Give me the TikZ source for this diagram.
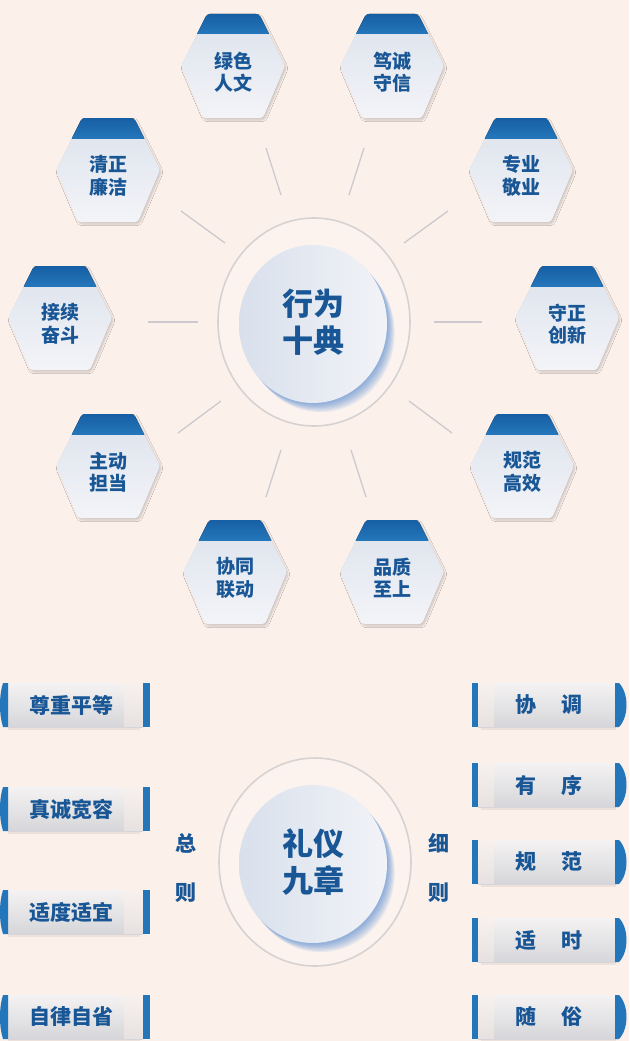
\documentclass[tikz,border=0pt]{standalone}
\usepackage{fontspec}
\newfontfamily\cjk{Noto Sans CJK SC}
\usetikzlibrary{calc,shadows.blur}
\definecolor{bg}{RGB}{252,240,234}
\definecolor{tblue}{RGB}{24,86,150}
\definecolor{capblue}{RGB}{36,118,186}
\definecolor{capdark}{RGB}{18,86,156}
\definecolor{hexlight}{RGB}{243,244,248}
\definecolor{hexdark}{RGB}{220,226,236}
\definecolor{ringc}{RGB}{214,210,210}
\definecolor{raygrey}{RGB}{204,202,206}
\definecolor{shblue}{RGB}{40,110,200}
\definecolor{disca}{RGB}{216,224,236}
\definecolor{discb}{RGB}{242,243,247}
\definecolor{barlight}{RGB}{244,242,242}
\definecolor{bardark}{RGB}{214,214,218}
\tikzset{
  hextext/.style={text=tblue, font=\cjk\bfseries\fontsize{19}{22.5}\selectfont, align=center, inner sep=0pt},
  bigtext/.style={text=tblue, font=\cjk\bfseries\fontsize{31}{37}\selectfont, align=center, inner sep=0pt},
  bantext/.style={text=tblue, font=\cjk\bfseries\fontsize{21}{24}\selectfont, inner sep=0pt},
  sidetext/.style={text=tblue, font=\cjk\bfseries\fontsize{21}{49}\selectfont, align=center, inner sep=0pt},
  ray/.style={draw=raygrey, line width=1.3pt},
  ring/.style={draw=ringc, line width=1.6pt, fill=white, fill opacity=0.25},
  bluebar/.style={fill=capblue},
  barbody/.style={top color=barlight, bottom color=bardark},
}
\newcommand\hexpath{(-26,-52) -- (26,-52) -- (52,0) -- (30,52) -- (-30,52) -- (-52,0) -- cycle}
\newcommand\hexnode[4]{%
  \begin{scope}[shift={(#2,#3)}]
    \path[rounded corners=3pt, top color=hexdark, bottom color=hexlight,
      blur shadow={shadow xshift=1.5pt, shadow yshift=-2pt, shadow opacity=18, shadow blur steps=6}] \hexpath;
    \begin{scope}
      \clip[rounded corners=3pt] \hexpath;
      \fill[top color=capdark, bottom color=capblue] (-60,-60) rectangle (60,-32);
    \end{scope}
    \node[hextext] (#1) at (0,6) {#4};
  \end{scope}}
\newcommand\centerdisc[6]{% name, ringx, ringy, discx, discy, text
  \draw[ring] (#2,#3) ellipse [x radius=96, y radius=104];
  \foreach \k in {1,...,7}{
    \fill[shblue, opacity=0.09] ($(#4,#5)+(1.1*\k,1.3*\k)$) ellipse [x radius=74, y radius=79];
  }
  \path[left color=disca, right color=discb] (#4,#5) ellipse [x radius=74, y radius=79];
  \node[bigtext] (#1) at (#4,#5-2) {#6};}
\newcommand\banL[3]{% name, y, text
  \fill[black, opacity=0.06] (8,#2-20) rectangle (140,#2+25);
  \path[barbody] (8,#2-22) rectangle (143,#2+22);
  \fill[bg, opacity=0.45] (124,#2-22) rectangle (143,#2+22);
  \fill[bluebar] (8,#2-22) -- (3,#2-22) .. controls (-1,#2-10) and (-1,#2+10) .. (3,#2+22) -- (8,#2+22) -- cycle;
  \fill[bluebar] (143,#2-22) rectangle (150,#2+22);
  \node[bantext] (#1) at (71,#2) {#3};}
\newcommand\banR[3]{% name, y, text
  \fill[black, opacity=0.06] (481,#2-20) rectangle (616,#2+25);
  \path[barbody] (478,#2-22) rectangle (616,#2+22);
  \fill[bg, opacity=0.45] (478,#2-22) rectangle (494,#2+22);
  \fill[bluebar] (472,#2-22) rectangle (478,#2+22);
  \fill[bluebar] (615,#2-22) -- (619,#2-22) .. controls (629,#2-12) and (629,#2+12) .. (619,#2+22) -- (615,#2+22) -- cycle;
  \node[bantext] (#1) at (549,#2) {#3};}
\begin{document}
\begin{tikzpicture}[x=1pt, y=-1pt]
  \useasboundingbox (0,0) rectangle (629,1041);
  \fill[bg] (0,0) rectangle (629,1041);

  % rays
  \foreach \i/\ax/\ay/\bx/\by in {1/266/148/281/195, 2/364/148/349/195, 3/181/211/225/243,
      4/448/211/404/243, 5/148/322/198/322, 6/434/322/482/322, 7/178/433/221/401,
      8/452/433/409/401, 9/266/497/281/450, 10/366/497/351/450}{
    \coordinate (ra\i) at (\ax,\ay);
    \coordinate (rb\i) at (\bx,\by);
    \draw[ray] (ra\i) -- (rb\i);
  }

  % centre of upper part
  \centerdisc{xw}{314}{322}{313}{324}{行为\\十典}

  % hexagons
  \hexnode{h1}{233}{66}{绿色\\人文}
  \hexnode{h2}{392}{66}{笃诚\\守信}
  \hexnode{h3}{108}{170}{清正\\廉洁}
  \hexnode{h4}{521}{170}{专业\\敬业}
  \hexnode{h5}{60}{318}{接续\\奋斗}
  \hexnode{h6}{567}{318}{守正\\创新}
  \hexnode{h7}{108}{466}{主动\\担当}
  \hexnode{h8}{522}{466}{规范\\高效}
  \hexnode{h9}{235}{572}{协同\\联动}
  \hexnode{h10}{392}{572}{品质\\至上}

  % lower part
  \centerdisc{ly}{315}{862}{313}{864}{礼仪\\九章}
  \node[sidetext] (zz) at (186,868) {总\\则};
  \node[sidetext] (xz) at (439,868) {细\\则};

  \banL{b1}{705}{尊重平等}
  \banL{b2}{809}{真诚宽容}
  \banL{b3}{912}{适度适宜}
  \banL{b4}{1017}{自律自省}

  \banR{c1}{705}{协\hspace{1.2em}调}
  \banR{c2}{785}{有\hspace{1.2em}序}
  \banR{c3}{862}{规\hspace{1.2em}范}
  \banR{c4}{940}{适\hspace{1.2em}时}
  \banR{c5}{1017}{随\hspace{1.2em}俗}
\end{tikzpicture}
\end{document}
